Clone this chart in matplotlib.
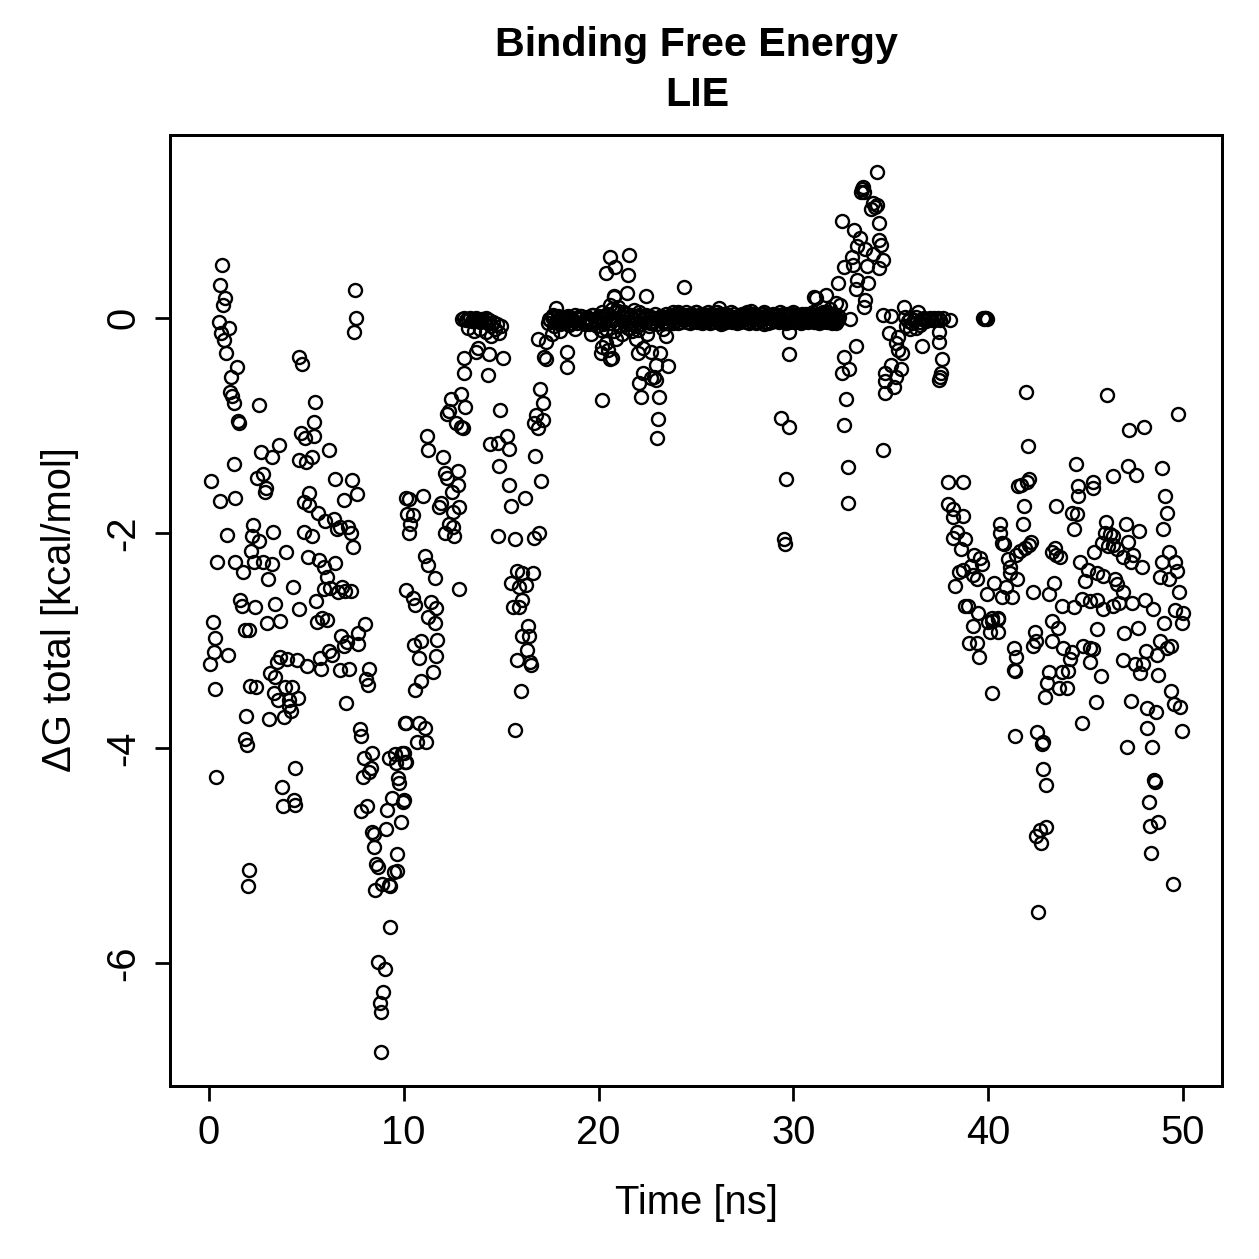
import numpy as np
import matplotlib.pyplot as plt

plt.rcParams['font.family'] = ['Liberation Sans', 'DejaVu Sans']

# (time [ns], dG [kcal/mol]), grouped by phase
start_phase = [
    (0.1, -1.52), (0.05, -3.22), (0.2, -2.83), (0.3, -2.98), (0.26, -3.11), (0.3, -3.45),
    (0.41, -2.27), (0.36, -4.27), (0.56, -1.70), (0.65, 0.49), (0.55, 0.31), (0.82, 0.18),
    (0.72, 0.12), (0.5, -0.04), (1.02, -0.09), (0.61, -0.14), (0.77, -0.21), (0.87, -0.33),
    (1.43, -0.46), (1.13, -0.55), (1.08, -0.69), (1.18, -0.73), (1.28, -0.79), (1.5, -0.96),
    (1.55, -0.98), (0.97, -3.13), (0.92, -2.02), (1.28, -1.36), (1.33, -1.67), (1.33, -2.27),
    (1.74, -2.36), (1.59, -2.62), (1.69, -2.68), (1.84, -2.90), (1.9, -3.70), (1.84, -3.91),
    (1.95, -3.97), (2.05, -5.13), (2.0, -5.28), (2.1, -3.42), (2.41, -3.43), (2.25, -1.93),
    (2.2, -2.03), (2.56, -2.07), (2.15, -2.17), (2.3, -2.27), (2.36, -2.69), (2.07, -2.90),
    (2.46, -1.49), (2.66, -1.25), (2.56, -0.81), (2.77, -1.45), (2.92, -1.58), (2.87, -1.62),
    (2.77, -2.27), (2.97, -2.84),
]

early_phase = [
    (3.23, -1.29), (3.59, -1.18), (3.28, -1.99), (3.23, -2.29), (3.02, -2.43), (3.38, -2.66),
    (3.64, -2.82), (3.64, -3.15), (3.48, -3.20), (4.0, -3.17), (4.5, -3.18), (3.13, -3.30),
    (3.38, -3.34), (3.89, -3.43), (4.25, -3.43), (3.33, -3.49), (3.53, -3.55), (4.1, -3.55),
    (4.1, -3.61), (4.2, -3.65), (4.56, -3.53), (3.07, -3.73), (3.84, -3.71), (4.4, -4.18),
    (3.74, -4.36), (4.35, -4.48), (4.4, -4.53), (3.79, -4.54), (3.94, -2.18), (4.3, -2.50),
    (4.61, -2.71), (4.6, -0.36), (4.77, -0.43), (4.71, -1.07), (4.92, -1.12), (4.6, -1.32),
    (5.0, -1.34), (5.28, -1.29), (5.38, -1.10), (5.38, -0.97), (5.43, -0.78), (5.12, -1.63),
    (4.87, -1.71), (5.12, -1.74), (5.58, -1.81), (5.94, -1.89), (4.87, -1.99), (5.28, -2.03),
    (5.07, -2.22), (5.63, -2.25), (5.89, -2.32), (6.45, -2.28), (6.05, -2.41), (5.89, -2.52),
    (6.2, -2.51), (5.48, -2.63), (5.53, -2.83), (5.79, -2.79), (6.05, -2.81), (5.02, -3.24),
    (5.69, -3.16), (5.74, -3.26), (6.15, -3.10), (6.3, -3.13), (6.71, -3.27), (7.17, -3.26),
    (6.76, -2.96), (7.07, -3.01), (6.92, -3.05), (7.63, -2.93), (7.63, -3.03), (7.99, -2.85),
    (6.15, -1.23), (6.45, -1.50), (6.4, -1.87), (6.56, -1.96), (6.71, -1.94), (6.81, -2.50),
    (6.61, -2.55), (6.97, -2.54), (7.27, -2.54), (6.92, -1.69), (7.12, -1.94), (7.27, -2.0),
    (7.38, -2.13), (7.33, -1.51), (7.58, -1.64), (7.48, 0.26), (7.53, 0.0), (7.43, -0.13),
    (7.02, -3.58),
]

dip_phase = [
    (8.2, -3.26), (8.04, -3.36), (8.15, -3.41), (7.74, -3.82), (7.79, -3.89), (8.35, -4.04),
    (7.94, -4.09), (8.3, -4.18), (8.2, -4.22), (7.89, -4.27), (9.22, -4.09), (9.53, -4.05),
    (9.89, -4.04), (9.58, -4.14), (10.04, -4.13), (9.73, -4.28), (9.78, -4.32), (9.38, -4.46),
    (9.99, -4.48), (9.94, -4.50), (8.1, -4.54), (7.79, -4.58), (9.12, -4.57), (9.84, -4.69),
    (9.07, -4.75), (8.35, -4.78), (8.45, -4.80), (8.45, -4.92), (9.63, -4.98), (9.48, -5.15),
    (9.63, -5.14), (8.56, -5.08), (8.66, -5.10), (8.86, -5.26), (9.22, -5.27), (9.32, -5.28),
    (8.5, -5.32), (9.27, -5.66), (8.66, -5.99), (9.02, -6.05), (8.91, -6.27), (8.76, -6.37),
    (8.81, -6.45), (8.81, -6.82), (10.04, -3.77), (10.14, -3.77), (9.99, -4.04),
]

rise_phase = [
    (10.1, -1.67), (10.25, -1.68), (11.0, -1.66), (10.15, -1.82), (10.5, -1.83), (10.3, -1.92),
    (10.25, -2.0), (10.14, -2.53), (10.5, -2.60), (10.6, -2.67), (11.1, -2.21), (11.27, -2.30),
    (11.58, -2.42), (11.4, -2.64), (11.68, -2.70), (11.27, -2.78), (11.58, -2.84), (10.55, -3.04),
    (10.86, -3.0), (11.73, -2.99), (10.76, -3.16), (11.63, -3.14), (11.48, -3.29), (10.9, -3.38),
    (10.6, -3.46), (10.8, -3.77), (11.07, -3.81), (10.66, -3.94), (11.12, -3.94), (10.09, -4.13),
    (11.17, -1.10), (11.22, -1.23), (12.04, -1.29), (12.76, -1.42), (12.1, -1.44), (12.2, -1.49),
    (12.8, -1.55), (12.5, -1.62), (11.9, -1.72), (11.8, -1.76), (12.86, -1.76), (12.55, -1.80),
    (12.3, -1.92), (12.55, -1.94), (12.1, -2.0), (12.6, -2.03), (12.86, -2.52), (12.95, -0.71),
    (12.45, -0.75), (13.15, -0.83), (12.3, -0.87), (12.2, -0.89), (12.7, -0.98), (12.95, -1.01),
    (13.05, -1.02), (13.1, -0.37), (13.1, -0.51),
]

plateau_phase = [
    (13.0, -0.01), (13.1, 0.0), (13.2, -0.02), (13.3, -0.01), (13.4, 0.0), (13.5, -0.03),
    (13.6, -0.01), (13.7, 0.0), (13.8, -0.02), (13.9, -0.04), (14.0, -0.01), (14.1, -0.03),
    (14.2, 0.0), (14.3, -0.05), (14.4, -0.02), (14.5, -0.08), (14.6, -0.04), (14.7, -0.10),
    (14.8, -0.06), (15.0, -0.08), (13.3, -0.09), (13.6, -0.12), (13.9, -0.10), (14.2, -0.13),
    (14.5, -0.17), (14.9, -0.14), (13.8, -0.28), (13.7, -0.32), (14.4, -0.34), (15.1, -0.37),
    (14.35, -0.53), (14.96, -0.86), (14.45, -1.17), (14.85, -1.16), (15.3, -1.10), (15.4, -1.22),
    (14.9, -1.38), (15.4, -1.55), (15.5, -1.75), (16.2, -1.67), (14.85, -2.03), (15.7, -2.06),
    (16.7, -2.05), (16.96, -2.0), (16.75, -1.28), (17.06, -1.52), (15.8, -2.35), (16.05, -2.37),
    (16.65, -2.37), (15.5, -2.46), (15.9, -2.50), (16.3, -2.48), (16.05, -2.62), (15.6, -2.69),
    (15.9, -2.69), (16.4, -2.86), (16.05, -2.96), (16.45, -2.96), (16.35, -3.09), (15.8, -3.18),
    (16.5, -3.20), (16.55, -3.23), (16.0, -3.47), (15.7, -3.83), (17.0, -0.66), (17.16, -0.79),
    (16.8, -0.90), (17.16, -0.95), (16.7, -0.98), (16.9, -1.02), (16.9, -0.20), (17.3, -0.22),
    (17.2, -0.36), (17.3, -0.38),
]

# bound state: dense run of frames sitting on zero
bound_time = [
    17.4, 17.5, 17.6, 17.7, 17.8, 17.9, 18.0, 18.1, 18.2, 18.3,
    18.4, 18.5, 18.6, 18.7, 18.8, 18.9, 19.0, 19.1, 19.2, 19.3,
    19.4, 19.5, 19.6, 19.7, 19.8, 19.9, 20.0, 20.1, 20.2, 20.3,
    20.4, 20.5, 20.6, 20.7, 20.8, 20.9, 21.0, 21.1, 21.2, 21.3,
    21.4, 21.5, 21.6, 21.7, 21.8, 21.9, 22.0, 22.1, 22.2, 22.3,
    22.4, 22.5, 22.6, 22.7, 22.8, 22.9, 23.0, 23.1, 23.2, 23.3,
    23.4, 23.5, 23.6, 23.7, 23.8, 23.9, 24.0, 24.1, 24.2, 24.3,
    24.4, 24.5, 24.6, 24.7, 24.8, 24.9, 25.0, 25.1, 25.2, 25.3,
    25.4, 25.5, 25.6, 25.7, 25.8, 25.9, 26.0, 26.1, 26.2, 26.3,
    26.4, 26.5, 26.6, 26.7, 26.8, 26.9, 27.0, 27.1, 27.2, 27.3,
    27.4, 27.5, 27.6, 27.7, 27.8, 27.9, 28.0, 28.1, 28.2, 28.3,
    28.4, 28.5, 28.6, 28.7, 28.8, 28.9, 29.0, 29.1, 29.2, 29.3,
    29.4, 29.5, 29.6, 29.7, 29.8, 29.9, 30.0, 30.1, 30.2, 30.3,
    30.4, 30.5, 30.6, 30.7, 30.8, 30.9, 31.0, 31.1, 31.2, 31.3,
    31.4, 31.5, 31.6, 31.7, 31.8, 31.9, 32.0, 32.1, 32.2, 32.3,
]
bound_dg = [
    -0.05, -0.02, 0.01, -0.08, -0.03, 0.02, -0.06, 0.00, -0.04, 0.01,
    -0.03, -0.07, 0.00, -0.02, 0.03, -0.05, -0.01, 0.02, -0.04, -0.02,
    0.01, -0.06, -0.02, 0.03, -0.01, -0.08, 0.02, -0.03, 0.05, -0.04,
    -0.10, 0.03, -0.05, 0.08, -0.12, 0.00, 0.06, -0.07, 0.02, -0.03,
    0.04, -0.09, 0.01, -0.05, 0.07, -0.02, -0.11, 0.03, -0.06, 0.00,
    -0.04, 0.02, -0.08, 0.01, -0.03, 0.04, -0.06, -0.01, 0.02, -0.04,
    0.00, -0.05, 0.02, -0.01, 0.05, -0.02, 0.01, -0.05, 0.02, 0.00,
    -0.02, 0.05, 0.00, -0.05, 0.02, -0.01, 0.05, -0.02, 0.01, -0.05,
    0.02, -0.01, 0.05, -0.05, 0.00, 0.02, -0.02, 0.05, -0.01, 0.01,
    -0.05, 0.02, 0.00, -0.02, 0.05, -0.01, 0.01, -0.05, 0.02, 0.00,
    -0.02, 0.01, 0.05, -0.05, 0.00, 0.02, -0.01, -0.05, 0.02, 0.01,
    -0.02, 0.05, 0.00, -0.05, 0.01, -0.01, 0.02, -0.02, 0.00, 0.05,
    -0.01, 0.02, -0.05, 0.00, 0.01, -0.02, 0.05, -0.01, 0.00, 0.02,
    -0.05, 0.01, -0.01, 0.02, 0.00, -0.02, 0.05, -0.01, 0.01, -0.05,
    0.02, 0.00, -0.02, 0.05, -0.01, 0.01, -0.05, 0.02, 0.00, -0.02,
]

# the in-between frames of the bound state (half-step times)
bound_time_mid = [
    17.45, 17.65, 17.85, 18.05, 18.25, 18.45, 18.65, 18.85, 19.05, 19.25,
    19.45, 19.65, 19.85, 20.05, 20.25, 20.45, 20.65, 20.85, 21.05, 21.25,
    21.45, 21.65, 21.85, 22.05, 22.25, 22.45, 22.65, 22.85, 23.05, 23.25,
    23.45, 23.55, 23.65, 23.75, 23.85, 23.95, 24.05, 24.15, 24.25, 24.35,
    24.45, 24.55, 24.65, 24.75, 24.85, 24.95, 25.05, 25.15, 25.25, 25.35,
    25.45, 25.55, 25.65, 25.75, 25.85, 25.95, 26.05, 26.15, 26.25, 26.35,
    26.45, 26.55, 26.65, 26.75, 26.85, 26.95, 27.05, 27.15, 27.25, 27.35,
    27.45, 27.55, 27.65, 27.75, 27.85, 27.95, 28.05, 28.15, 28.25, 28.35,
    28.45, 28.55, 28.65, 28.75, 28.85, 28.95, 29.05, 29.15, 29.25, 29.35,
    29.45, 29.55, 29.65, 29.75, 29.85, 29.95, 30.05, 30.15, 30.25, 30.35,
    30.45, 30.55, 30.65, 30.75, 30.85, 30.95, 31.05, 31.15, 31.25, 31.35,
    31.45, 31.55, 31.65, 31.75, 31.85, 31.95, 32.05, 32.15, 32.25, 32.35,
]
bound_dg_mid = [
    -0.01, 0.03, -0.04, 0.01, -0.02, 0.02, -0.05, 0.00, 0.02, -0.03,
    -0.01, 0.03, -0.04, 0.00, -0.06, 0.04, -0.02, 0.05, -0.08, 0.02,
    -0.04, 0.03, -0.06, 0.01, -0.02, 0.03, -0.05, 0.00, -0.02, 0.01,
    0.04, -0.04, 0.00, 0.03, -0.03, 0.01, -0.02, 0.04, -0.04, 0.02,
    0.03, -0.04, 0.01, 0.04, -0.03, 0.02, -0.04, 0.03, -0.02, 0.04,
    -0.04, 0.03, -0.02, 0.04, -0.04, 0.01, 0.03, -0.04, 0.04, -0.03,
    0.04, -0.04, 0.03, 0.01, -0.04, 0.04, -0.03, 0.02, -0.04, 0.04,
    0.03, -0.04, 0.00, 0.04, -0.03, 0.04, 0.03, -0.04, -0.02, 0.04,
    0.04, -0.04, 0.03, 0.01, -0.04, 0.04, -0.03, 0.03, -0.04, 0.02,
    0.04, -0.03, 0.04, -0.04, 0.03, 0.04, -0.04, 0.03, -0.03, -0.04,
    0.04, -0.03, 0.04, -0.04, 0.03, 0.04, -0.04, 0.02, -0.03, 0.04,
    -0.04, 0.03, 0.04, -0.04, 0.03, -0.03, 0.04, -0.04, 0.03, 0.01,
]

bound_scatter = [
    (17.8, 0.09), (18.4, -0.32), (18.4, -0.46), (17.6, -0.15), (18.0, -0.12), (18.8, -0.10),
    (19.3, -0.06), (19.6, -0.15), (20.1, -0.11), (20.2, -0.27), (20.1, -0.33), (20.5, -0.30),
    (20.7, -0.37), (20.6, 0.12), (20.8, 0.19), (20.2, -0.76), (20.6, 0.57), (20.85, 0.47),
    (20.4, 0.42), (21.57, 0.58), (21.5, 0.40), (21.46, 0.23), (20.8, 0.20), (22.44, 0.20),
    (24.4, 0.29), (20.4, -0.23), (20.6, -0.38), (22.0, -0.33), (22.3, -0.28), (22.7, -0.32),
    (23.15, -0.33), (22.95, -0.44), (23.56, -0.45), (22.3, -0.51), (22.1, -0.61), (22.7, -0.56),
    (22.95, -0.58), (22.85, -0.55), (22.2, -0.74), (23.1, -0.74), (23.05, -0.94), (23.0, -1.12),
    (23.46, -0.17), (21.0, 0.10), (21.2, -0.15), (21.7, -0.12), (21.9, -0.20), (22.1, 0.05),
    (20.9, -0.20), (21.3, 0.05), (21.6, -0.06), (22.5, -0.15), (23.3, -0.10), (23.8, -0.05),
    (24.1, 0.05), (26.2, 0.09), (26.3, -0.06), (29.35, -0.93), (29.76, -1.01), (29.8, -0.13),
    (29.8, -0.34), (31.05, 0.19), (29.5, -2.06), (29.55, -2.10), (29.6, -1.50), (25.0, 0.05),
    (27.8, 0.06), (28.5, -0.06),
]

spike_phase = [
    (31.15, 0.18), (31.66, 0.21), (32.17, 0.14), (32.4, 0.12), (31.5, 0.05), (32.0, 0.0),
    (32.2, -0.05), (31.9, 0.08), (32.9, -0.01), (33.7, 0.17), (33.6, 0.10), (32.3, 0.32),
    (33.25, 0.35), (33.85, 0.32), (33.2, 0.27), (32.6, 0.47), (33.05, 0.49), (33.8, 0.48),
    (34.4, 0.46), (33.0, 0.57), (34.1, 0.59), (34.6, 0.54), (33.25, 0.67), (33.7, 0.64),
    (33.1, 0.82), (33.4, 0.74), (34.4, 0.72), (34.5, 0.68), (32.5, 0.90), (34.4, 0.88),
    (34.07, 1.07), (34.17, 1.03), (33.96, 1.01), (34.3, 1.05), (33.5, 1.20), (33.6, 1.17),
    (33.45, 1.17), (33.55, 1.22), (34.27, 1.36), (33.2, -0.26), (32.6, -0.36), (32.84, -0.48),
    (32.5, -0.51), (32.7, -0.75), (32.6, -1.0), (32.8, -1.39), (32.8, -1.72), (34.6, -1.23),
    (34.6, 0.03), (35.0, 0.02), (35.7, 0.10), (34.9, -0.14), (35.35, -0.18), (35.25, -0.23),
    (35.35, -0.30), (35.6, -0.33), (36.6, -0.26), (35.0, -0.44), (35.5, -0.48), (34.7, -0.51),
    (35.25, -0.55), (34.7, -0.59), (35.15, -0.64), (34.7, -0.70),
]

rebound_phase = [
    (35.75, 0.01), (35.9, -0.03), (36.0, 0.0), (36.1, -0.05), (36.2, -0.02), (36.3, 0.01),
    (36.4, 0.05), (36.5, -0.04), (36.6, -0.01), (36.7, 0.0), (36.8, -0.03), (36.9, -0.01),
    (37.0, 0.0), (37.1, -0.02), (37.2, 0.0), (37.3, -0.01), (37.4, 0.0), (37.55, -0.02),
    (37.7, 0.0), (38.06, -0.02), (35.8, -0.08), (36.0, -0.10), (36.3, -0.09), (36.5, -0.07),
    (39.75, 0.0), (39.8, -0.01), (39.85, 0.0), (39.9, 0.0), (39.95, -0.01),
    (37.5, -0.13), (37.45, -0.22), (37.65, -0.38), (37.6, -0.51), (37.5, -0.58), (37.55, -0.55),
]

late_phase = [
    (41.95, -0.69), (46.1, -0.72), (49.74, -0.89), (47.23, -1.04), (48.0, -1.01), (42.06, -1.19),
    (44.5, -1.36), (37.96, -1.53), (38.73, -1.53), (41.7, -1.55), (42.1, -1.50), (41.55, -1.56),
    (42.0, -1.53), (47.2, -1.38), (47.6, -1.46), (48.9, -1.40), (46.4, -1.47), (44.6, -1.56),
    (45.4, -1.53), (45.4, -1.58), (44.6, -1.66), (49.1, -1.66), (49.2, -1.81), (48.97, -1.96),
    (37.96, -1.73), (38.2, -1.78), (38.2, -1.85), (38.7, -1.84), (41.85, -1.75), (41.8, -1.92),
    (43.5, -1.75), (44.3, -1.81), (44.56, -1.82), (44.4, -1.96), (38.4, -1.99), (38.2, -2.05),
    (38.8, -2.06), (38.6, -2.15), (40.6, -1.92), (40.6, -2.0), (40.7, -2.09), (40.8, -2.10),
    (42.2, -2.08), (42.1, -2.11), (41.9, -2.14), (41.65, -2.17), (41.45, -2.20), (43.45, -2.14),
    (43.3, -2.18), (43.7, -2.22), (46.05, -1.90), (46.0, -2.0), (46.26, -2.01), (46.4, -2.03),
    (45.85, -2.09), (46.15, -2.12), (46.4, -2.11), (47.08, -1.92), (47.75, -1.98), (47.2, -2.08),
    (45.45, -2.18), (46.6, -2.15), (46.9, -2.22), (47.45, -2.20), (47.35, -2.27), (47.9, -2.32),
    (49.3, -2.18), (48.9, -2.27), (49.6, -2.27), (49.7, -2.35), (48.8, -2.41), (49.3, -2.43),
    (49.8, -2.55), (44.7, -2.27), (45.1, -2.34), (45.6, -2.37), (45.9, -2.40), (44.96, -2.45),
    (46.5, -2.43), (46.6, -2.47), (46.9, -2.55), (39.25, -2.20), (39.6, -2.23), (39.7, -2.29),
    (39.1, -2.31), (38.5, -2.36), (38.7, -2.34), (39.2, -2.39), (39.45, -2.43), (38.3, -2.49),
    (41.0, -2.24), (41.1, -2.32), (41.1, -2.37), (41.5, -2.43), (40.3, -2.46), (40.9, -2.50),
    (40.7, -2.59), (41.2, -2.59), (39.96, -2.57), (43.5, -2.20), (43.4, -2.46), (43.1, -2.57),
    (42.3, -2.55), (43.8, -2.68), (44.4, -2.69), (44.8, -2.61), (45.2, -2.63), (45.6, -2.62),
    (45.9, -2.71), (46.4, -2.68), (46.7, -2.65), (47.4, -2.65), (48.05, -2.62), (48.46, -2.71),
    (49.6, -2.72), (50.0, -2.74), (38.8, -2.68), (38.95, -2.68), (39.5, -2.74), (40.2, -2.79),
    (40.5, -2.79), (39.2, -2.86), (40.0, -2.83), (40.2, -2.82), (40.5, -2.80), (40.1, -2.92),
    (40.5, -2.92), (39.0, -3.02), (39.45, -3.02), (39.55, -3.15), (41.3, -3.07), (41.45, -3.15),
    (41.3, -3.27), (41.35, -3.28), (40.2, -3.49), (42.4, -2.92), (42.47, -3.0), (42.3, -3.05),
    (43.25, -2.82), (43.25, -3.0), (43.6, -2.88), (43.85, -3.07), (44.3, -3.11), (44.2, -3.17),
    (43.8, -3.29), (44.1, -3.28), (43.1, -3.29), (43.0, -3.39), (43.65, -3.44), (44.05, -3.44),
    (42.9, -3.52), (44.87, -3.05), (45.2, -3.07), (45.4, -3.08), (45.2, -3.20), (45.8, -3.33),
    (45.55, -3.57), (44.8, -3.77), (45.6, -2.89), (46.98, -2.93), (47.7, -2.88), (46.9, -3.18),
    (48.1, -3.10), (47.55, -3.22), (47.8, -3.30), (47.95, -3.22), (48.67, -3.13), (48.8, -3.0),
    (49.2, -3.07), (49.4, -3.05), (48.7, -3.32), (49.0, -2.84), (49.95, -2.84), (47.35, -3.56),
    (48.15, -3.63), (48.6, -3.66), (49.4, -3.47), (49.55, -3.59), (49.85, -3.62), (48.15, -3.81),
    (49.95, -3.84), (47.1, -3.99), (48.4, -3.99), (48.5, -4.30), (48.55, -4.31), (48.26, -4.50),
    (48.3, -4.72), (48.7, -4.69), (48.36, -4.97), (49.5, -5.26), (41.4, -3.89), (42.5, -3.85),
    (42.83, -3.94), (42.78, -3.96), (42.83, -4.19), (42.98, -4.34), (42.98, -4.73), (42.67, -4.76),
    (42.47, -4.82), (42.73, -4.88), (42.57, -5.52),
]

x_ticks = [0, 10, 20, 30, 40, 50]
y_ticks = [-6, -4, -2, 0]

records = (start_phase + early_phase + dip_phase + rise_phase + plateau_phase
           + list(zip(bound_time, bound_dg)) + list(zip(bound_time_mid, bound_dg_mid))
           + bound_scatter + spike_phase + rebound_phase + late_phase)
time = np.array([r[0] for r in records])
dg = np.array([r[1] for r in records])

fig = plt.figure(figsize=(1259 / 180, 1259 / 180), dpi=180)
ax = fig.add_axes([0.135, 0.1374, 0.8356, 0.7554])
ax.plot(time, dg, linestyle='none', marker='o', markersize=5.2,
        markerfacecolor='none', markeredgecolor='black', markeredgewidth=0.95)

ax.set_xlim(-2, 52)
ax.set_ylim(-7.14, 1.70)
ax.set_xticks(x_ticks)
ax.set_xticklabels([str(v) for v in x_ticks])
ax.set_yticks(y_ticks)
ax.set_yticklabels([str(v) for v in y_ticks], rotation=90, va='center')
ax.tick_params(direction='out', length=6, width=1.1, labelsize=16, pad=5)
for sp in ax.spines.values():
    sp.set_linewidth(1.2)

cx = 0.5536
fig.text(cx, 1 - 45 / 1259, 'Binding Free Energy', ha='center', va='center',
         fontsize=16.5, fontweight='bold')
fig.text(cx, 1 - 95 / 1259, 'LIE', ha='center', va='center',
         fontsize=16.5, fontweight='bold')
fig.text(cx, 1 - 1203 / 1259, 'Time [ns]', ha='center', va='center', fontsize=16)
fig.text(60 / 1259, 1 - 610 / 1259, 'ΔG total [kcal/mol]', ha='center', va='center',
         rotation=90, fontsize=16)

fig.savefig('out.png', dpi=180)
